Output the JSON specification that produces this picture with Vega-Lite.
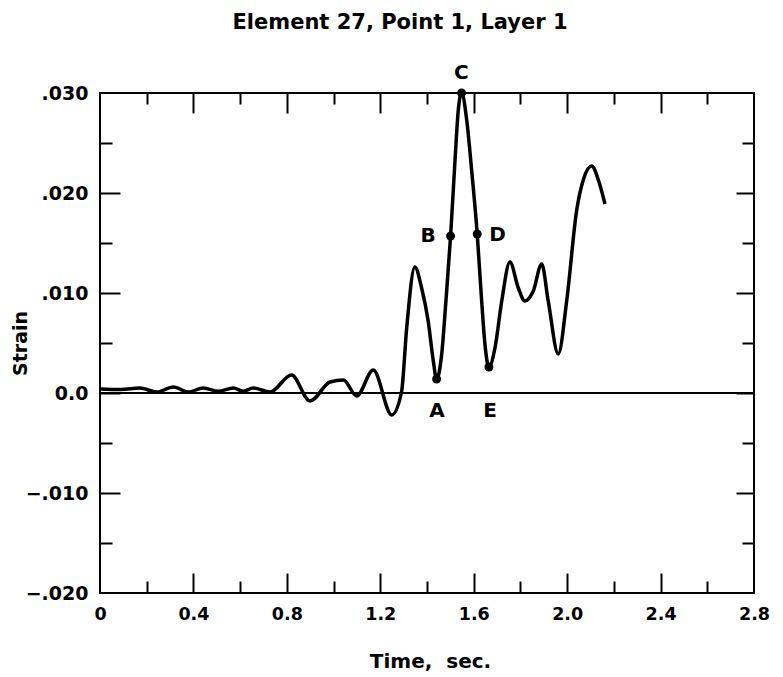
{
  "$schema": "https://vega.github.io/schema/vega-lite/v6.json",
  "width": 654,
  "height": 500,
  "autosize": {"type": "none"},
  "padding": {"left": 100, "top": 93, "right": 29, "bottom": 84},
  "background": "white",
  "view": {"stroke": "black", "strokeWidth": 2},
  "config": {
    "font": "DejaVu Sans",
    "axis": {"grid": false, "domain": false, "tickColor": "black", "tickWidth": 2, "labelColor": "black", "titleColor": "black"}
  },
  "title": {
    "text": "Element 27, Point 1, Layer 1",
    "font": "DejaVu Sans",
    "fontSize": 21,
    "fontWeight": "bold",
    "color": "black",
    "anchor": "middle",
    "frame": "group",
    "dx": -27,
    "offset": 30
  },
  "datasets": {
    "curve": [
      {"t": 0.0, "s": 0.0004},
      {"t": 0.09, "s": 0.00035},
      {"t": 0.171, "s": 0.0005},
      {"t": 0.243, "s": 0.0001},
      {"t": 0.314, "s": 0.0006},
      {"t": 0.378, "s": 0.0001},
      {"t": 0.442, "s": 0.0005},
      {"t": 0.506, "s": 0.00017},
      {"t": 0.571, "s": 0.0005},
      {"t": 0.613, "s": 0.00017},
      {"t": 0.656, "s": 0.0005},
      {"t": 0.728, "s": 0.0001},
      {"t": 0.82, "s": 0.0018},
      {"t": 0.899, "s": -0.0008},
      {"t": 0.985, "s": 0.0011},
      {"t": 1.042, "s": 0.0013},
      {"t": 1.099, "s": -0.0003},
      {"t": 1.17, "s": 0.0023},
      {"t": 1.249, "s": -0.0022},
      {"t": 1.291, "s": 0.0001},
      {"t": 1.313, "s": 0.0065},
      {"t": 1.348, "s": 0.0126},
      {"t": 1.377, "s": 0.0105},
      {"t": 1.405, "s": 0.0072},
      {"t": 1.427, "s": 0.0032},
      {"t": 1.441, "s": 0.0014},
      {"t": 1.463, "s": 0.0039},
      {"t": 1.481, "s": 0.0092},
      {"t": 1.501, "s": 0.0157},
      {"t": 1.52, "s": 0.0233},
      {"t": 1.534, "s": 0.0283},
      {"t": 1.548, "s": 0.03},
      {"t": 1.57, "s": 0.0273},
      {"t": 1.591, "s": 0.0223},
      {"t": 1.615, "s": 0.0159},
      {"t": 1.634, "s": 0.0092},
      {"t": 1.648, "s": 0.0049},
      {"t": 1.665, "s": 0.0026},
      {"t": 1.691, "s": 0.0045},
      {"t": 1.72, "s": 0.0092},
      {"t": 1.755, "s": 0.0131},
      {"t": 1.791, "s": 0.0105},
      {"t": 1.819, "s": 0.0092},
      {"t": 1.855, "s": 0.0102},
      {"t": 1.891, "s": 0.0129},
      {"t": 1.919, "s": 0.0092},
      {"t": 1.962, "s": 0.0039},
      {"t": 1.998, "s": 0.0092},
      {"t": 2.041, "s": 0.0183},
      {"t": 2.069, "s": 0.0213},
      {"t": 2.105, "s": 0.0227},
      {"t": 2.135, "s": 0.0212},
      {"t": 2.162, "s": 0.0189}
    ],
    "marks": [
      {"label": "A", "t": 1.441, "s": 0.0014, "lt": 1.443, "ls": -0.0018},
      {"label": "B", "t": 1.501, "s": 0.0157, "lt": 1.405, "ls": 0.0157},
      {"label": "C", "t": 1.548, "s": 0.03, "lt": 1.547, "ls": 0.032},
      {"label": "D", "t": 1.615, "s": 0.0159, "lt": 1.702, "ls": 0.0158},
      {"label": "E", "t": 1.665, "s": 0.0026, "lt": 1.67, "ls": -0.0018}
    ],
    "zero": [{"s": 0}]
  },
  "layer": [
    {
      "data": {"name": "curve"},
      "mark": {"type": "line", "color": "black", "strokeWidth": 3.5, "interpolate": "monotone", "clip": false},
      "encoding": {
        "x": {
          "field": "t", "type": "quantitative",
          "scale": {"domain": [0, 2.8], "nice": false, "zero": false},
          "axis": {
            "orient": "bottom", "values": [0, 0.4, 0.8, 1.2, 1.6, 2.0, 2.4, 2.8],
            "ticks": false, "tickSize": 0, "labelPadding": 12,
            "labelExpr": "datum.value == 0 ? '0' : format(datum.value, '.1f')",
            "labelFont": "DejaVu Sans", "labelFontSize": 17.5, "labelFontWeight": "bold",
            "labelFlush": false, "labelOverlap": false,
            "title": "Time,\u00a0 sec.", "titleFont": "DejaVu Sans", "titleFontSize": 20, "titleFontWeight": "bold",
            "titleX": 330, "titleY": 74, "titleBaseline": "alphabetic", "titleAlign": "center"
          }
        },
        "y": {
          "field": "s", "type": "quantitative",
          "scale": {"domain": [-0.02, 0.03], "nice": false, "zero": false},
          "axis": {
            "orient": "left", "values": [-0.02, -0.01, 0, 0.01, 0.02, 0.03],
            "ticks": false, "tickSize": 0, "labelPadding": 12,
            "labelExpr": "datum.value == 0 ? '0.0' : replace(format(datum.value, '.3f'), '0.', '.')",
            "labelFont": "DejaVu Sans", "labelFontSize": 19, "labelFontWeight": "bold",
            "labelFlush": false, "labelOverlap": false,
            "title": "Strain", "titleFont": "DejaVu Sans", "titleFontSize": 19, "titleFontWeight": "bold",
            "titleAngle": -90, "titleX": -80, "titleY": 250, "titleBaseline": "middle", "titleAlign": "center"
          }
        }
      }
    },
    {
      "data": {"name": "zero"},
      "mark": {"type": "rule", "color": "black", "strokeWidth": 2},
      "encoding": {"y": {"field": "s", "type": "quantitative", "axis": null}}
    },
    {
      "data": {"name": "marks"},
      "mark": {"type": "circle", "color": "black", "opacity": 1, "size": 80, "clip": false},
      "encoding": {
        "x": {"field": "t", "type": "quantitative", "axis": {"orient": "bottom", "values": [0.4, 0.8, 1.2, 1.6, 2.0, 2.4], "labels": false, "ticks": true, "tickSize": 20, "offset": -20, "title": null}},
        "y": {"field": "s", "type": "quantitative", "axis": {"orient": "left", "values": [-0.01, 0, 0.01, 0.02], "labels": false, "ticks": true, "tickSize": 20, "offset": -20, "title": null}}
      }
    },
    {
      "data": {"name": "marks"},
      "mark": {"type": "text", "font": "DejaVu Sans", "fontSize": 20, "fontWeight": "bold", "color": "black", "align": "center", "baseline": "middle", "clip": false},
      "encoding": {
        "x": {"field": "lt", "type": "quantitative", "axis": {"orient": "bottom", "values": [0.2, 0.6, 1.0, 1.4, 1.8, 2.2, 2.6], "labels": false, "ticks": true, "tickSize": 12, "offset": -12, "title": null}},
        "y": {"field": "ls", "type": "quantitative", "axis": {"orient": "left", "values": [-0.015, -0.005, 0.005, 0.015, 0.025], "labels": false, "ticks": true, "tickSize": 12, "offset": -12, "title": null}},
        "text": {"field": "label"}
      }
    },
    {
      "data": {"name": "marks"},
      "mark": {"type": "point", "opacity": 0},
      "encoding": {
        "x": {"field": "t", "type": "quantitative", "axis": {"orient": "top", "values": [0.4, 0.8, 1.2, 1.6, 2.0, 2.4], "labels": false, "ticks": true, "tickSize": 20, "offset": -20, "title": null}},
        "y": {"field": "s", "type": "quantitative", "axis": {"orient": "right", "values": [-0.01, 0, 0.01, 0.02], "labels": false, "ticks": true, "tickSize": 18, "offset": -18, "title": null}}
      }
    },
    {
      "data": {"name": "marks"},
      "mark": {"type": "point", "opacity": 0},
      "encoding": {
        "x": {"field": "t", "type": "quantitative", "axis": {"orient": "top", "values": [0.2, 0.6, 1.0, 1.4, 1.8, 2.2, 2.6], "labels": false, "ticks": true, "tickSize": 11, "offset": -11, "title": null}},
        "y": {"field": "s", "type": "quantitative", "axis": {"orient": "right", "values": [-0.015, -0.005, 0.005, 0.015, 0.025], "labels": false, "ticks": true, "tickSize": 12, "offset": -12, "title": null}}
      }
    }
  ],
  "resolve": {"axis": {"x": "independent", "y": "independent"}}
}
